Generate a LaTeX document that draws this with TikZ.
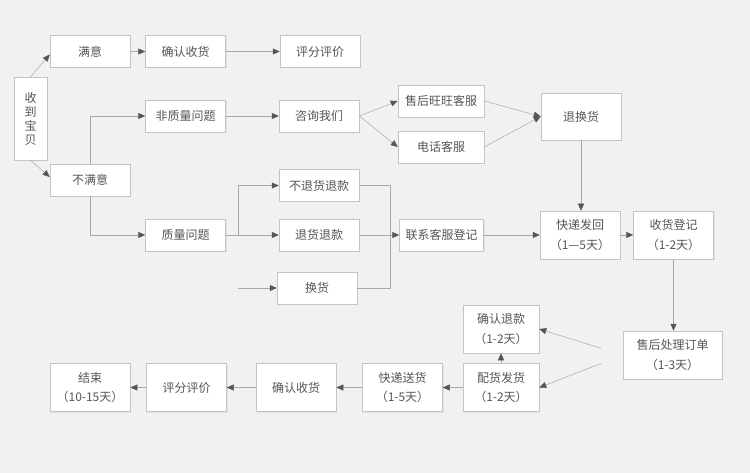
\documentclass[tikz,border=0pt]{standalone}
\usepackage{fontspec}
\setmainfont{Noto Sans CJK SC}
\usetikzlibrary{arrows.meta,positioning,shadows}
\definecolor{boxline}{HTML}{C4C4C4}
\definecolor{flowline}{HTML}{A8A8A8}
\definecolor{tiptext}{HTML}{555555}
\definecolor{paper}{HTML}{F1F1F1}
\tikzset{
    box/.style={
           rectangle,
           draw=boxline, fill=white,
           minimum width=80pt,
           minimum height=32pt,
           inner sep=2pt,
           align=center,
           text=tiptext,
           drop shadow={opacity=0.12,shadow xshift=1pt,shadow yshift=-1pt},
           },
    tallbox/.style={box, minimum height=48pt},
}

\begin{document}
\begin{tikzpicture}[x=1pt,y=-1pt,->,>={Stealth[length=7pt,width=6pt,inset=0pt,color=tiptext]},
                    draw=flowline, line width=0.5pt, font=\fontsize{12}{19.5}\selectfont]
  \fill[paper] (0,0) rectangle (750,473);
  \useasboundingbox (0,0) rectangle (750,473);

  % first steps
  \node[box, minimum width=33pt, minimum height=83pt, font=\fontsize{12}{14}\selectfont]
                        (recv) at (30.5,118.5)      {收\\到\\宝\\贝};
  \node[box]            (ok) at (90,51.5)           {满意};
  \node[box]            (confirma) [right=15pt of ok]       {确认收货};
  \node[box]            (ratea) [right=54pt of confirma]    {评分评价};
  \node[box]            (notok) at (90,180)         {不满意};
  \node[box]            (nonq) at (185.5,116)       {非质量问题};
  \node[box]            (qual) at (185.5,235)       {质量问题};

  % asking and returning
  \node[box]            (ask) [right=53pt of nonq]  {咨询我们};
  \node[box, minimum width=86pt] (ww) at (441,101)  {售后旺旺客服};
  \node[box, minimum width=86pt] (tel) at (441,147) {电话客服};
  \node[box]            (norefund) at (319,185.5)   {不退货退款};
  \node[box]            (refund) [right=53pt of qual]       {退货退款};
  \node[box]            (swap) at (317,288)         {换货};
  \node[box, minimum width=84pt] (reg) [right=40pt of refund] {联系客服登记};
  \node[box, minimum height=47pt] (ret) at (581,116.5) {退换货};
  \node[tallbox]        (back) [right=56pt of reg]  {快递发回\\（1—5天）};
  \node[tallbox]        (recvreg) [right=13pt of back]      {收货登记\\（1-2天）};

  % after-sale handling
  \node[tallbox, minimum width=99pt] (order) at (672.5,355) {售后处理订单\\（1-3天）};
  \node[tallbox, minimum width=76pt] (refundok) at (501,329) {确认退款\\（1-2天）};
  \node[tallbox, minimum width=76pt] (ship) [below=10pt of refundok] {配货发货\\（1-2天）};
  \node[tallbox]        (deliver) [left=20pt of ship]       {快递送货\\（1-5天）};
  \node[tallbox]        (confirmb) [left=26pt of deliver]   {确认收货};
  \node[tallbox]        (rateb) [left=29pt of confirmb]     {评分评价};
  \node[tallbox]        (finish) [left=16pt of rateb]       {结束\\（10-15天）};

  \coordinate (swapin) at (238,288);

  \draw (recv.north) -- ([yshift=-3pt]ok.west);
  \draw (recv.south) -- ([yshift=3pt]notok.west);
  \draw (ok) -- (confirma);
  \draw (confirma) -- (ratea);
  \draw (notok.north) |- (nonq);
  \draw (notok.south) |- (qual);
  \draw (nonq) -- (ask);
  \draw (ask.east) -- (ww.west);
  \draw (ask.east) -- (tel.west);
  \draw (ww.east) -- (ret.west);
  \draw (tel.east) -- (ret.west);
  \draw (qual.east) -- ++(12,0) |- (norefund);
  \draw (qual) -- (refund);
  \draw (swapin) -- (swap);
  \draw[-] (norefund.east) -- ++(31,0) |- (swap.east);
  \draw (refund) -- (reg);
  \draw (reg) -- (back);
  \draw (ret.south) -- (ret.south |- back.north);
  \draw (back) -- (recvreg);
  \draw (recvreg) -- (recvreg |- order.north);
  \draw[shorten <=23pt] (order.west) -- (refundok.east);
  \draw[shorten <=23pt] (order.west) -- (ship.east);
  \draw (ship) -- (refundok);
  \draw (ship) -- (deliver);
  \draw (deliver) -- (confirmb);
  \draw (confirmb) -- (rateb);
  \draw (rateb) -- (finish);
\end{tikzpicture}
\end{document}
